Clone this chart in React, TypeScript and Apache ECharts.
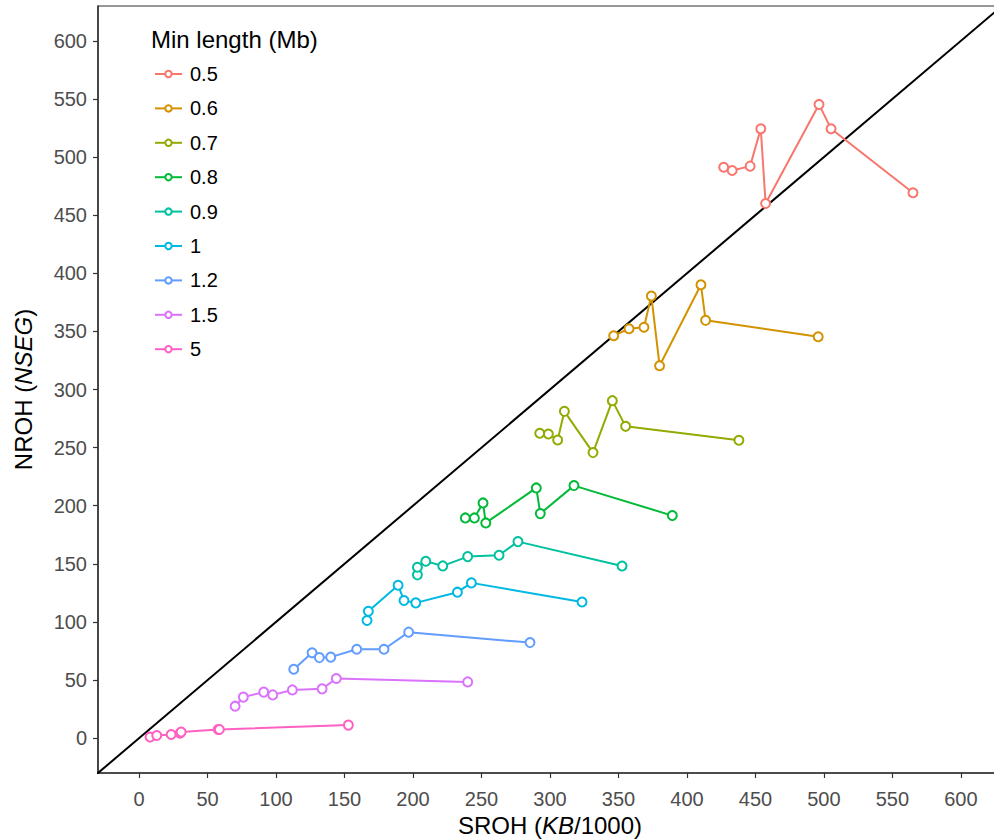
import React, { useEffect, useRef } from "react";
import * as echarts from "echarts";

const groups = ["0.5", "0.6", "0.7", "0.8", "0.9", "1", "1.2", "1.5", "5"];
const colors = ["#F8766D", "#D39200", "#93AA00", "#00BA38", "#00C19F", "#00B9E3", "#619CFF", "#DB72FB", "#FF61C3"];

const s05 = [[426.8, 491.3], [433, 488.5], [446.1, 492.2], [453.9, 524.3], [457.4, 460.1], [496.4, 545.3], [505.2, 524.3], [565, 469.3]];
const s06 = [[346.5, 346.3], [357.7, 352.3], [368.6, 353.5], [374, 380.4], [380, 320.5], [410.2, 390.1], [413.6, 359.5], [495.8, 345.4]];
const s07 = [[292.5, 262.3], [298.8, 261.7], [305.6, 256.6], [310.5, 281.2], [331.4, 245.7], [345.5, 290.4], [355.2, 268.3], [437.9, 256.3]];
const s08 = [[238.2, 189.5], [244.8, 189.5], [251.1, 202.4], [253.1, 185.2], [290, 215.3], [292.9, 193.2], [317.5, 217.3], [389.3, 191.5]];
const s09 = [[203.2, 140.5], [203.2, 147.1], [209.3, 152.2], [221.7, 148.2], [239.9, 156.2], [262.8, 157.4], [276.6, 169.1], [352.6, 148.1]];
const s10 = [[166.4, 101.2], [167.4, 109.2], [189.1, 131.6], [193.4, 118.4], [202, 116.4], [232.4, 125.6], [242.6, 133.6], [323.4, 117.2]];
const s12 = [[112.9, 59.3], [126.3, 73.4], [131.6, 69.3], [139.9, 69.7], [158.9, 76.5], [178.8, 76.5], [196.8, 91.2], [285.4, 82.2]];
const s15 = [[70.1, 27.5], [76.1, 35.3], [91, 39.6], [97.6, 37.2], [111.9, 41.5], [133.6, 42.4], [144, 51.3], [239.9, 48.4]];
const s50 = [[8, 0.9], [12.9, 2.3], [23.4, 3.1], [29.9, 4.3], [30.7, 5.2], [57.7, 7.4], [58.6, 7.4], [152.8, 11.2]];
const seriesData = [s05, s06, s07, s08, s09, s10, s12, s15, s50];

const tickValues = [0, 50, 100, 150, 200, 250, 300, 350, 400, 450, 500, 550, 600];
const identityLine = [[-60, -60], [700, 700]];

const FONT = "Liberation Sans, Arial, Helvetica, sans-serif";

export default function App() {
  const ref = useRef<HTMLDivElement>(null);
  useEffect(() => {
    if (!ref.current) return;
    const chart = echarts.init(ref.current, undefined, { renderer: "svg" });
    const series: any[] = seriesData.map((d, i) => ({
      name: groups[i],
      type: "line",
      data: d,
      symbol: "emptyCircle",
      symbolSize: 9,
      showSymbol: true,
      color: colors[i],
      lineStyle: { width: 2, color: colors[i] },
      itemStyle: { color: colors[i], borderColor: colors[i], borderWidth: 1.2 },
      emphasis: { disabled: true },
      z: 3,
    }));
    series.push({
      name: "identity",
      type: "line",
      data: identityLine,
      symbol: "none",
      clip: true,
      lineStyle: { width: 2, color: "#000" },
      emphasis: { disabled: true },
      z: 2,
    });
    const axisName = {
      fontFamily: FONT,
      fontSize: 24,
      color: "#000",
      rich: { i: { fontStyle: "italic", fontSize: 24, fontFamily: FONT, color: "#000" } },
    };
    chart.setOption({
      animation: false,
      textStyle: { fontFamily: FONT },
      grid: {
        left: 98,
        top: 6,
        width: 904,
        bottom: 67,
        outerBoundsMode: "none",
        containLabel: false,
        show: true,
        borderColor: "#333",
        borderWidth: 1.2,
        backgroundColor: "transparent",
      },
      title: {
        text: "Min length (Mb)",
        left: 151,
        top: 27,
        padding: 0,
        textStyle: { fontFamily: FONT, fontSize: 24, fontWeight: "normal", color: "#000" },
      },
      legend: {
        data: groups,
        orient: "vertical",
        left: 154,
        top: 64,
        padding: 0,
        itemWidth: 27,
        itemHeight: 8,
        itemGap: 14.4,
        textStyle: { fontFamily: FONT, fontSize: 20, color: "#000", padding: [0, 0, 0, 3] },
        selectedMode: false,
      },
      xAxis: {
        type: "value",
        min: -30,
        max: 630,
        splitLine: { show: false },
        axisLine: { show: true, onZero: false, lineStyle: { color: "#333", width: 1.5 } },
        axisTick: { show: true, length: 5, lineStyle: { color: "#333", width: 1.2 }, customValues: tickValues },
        axisLabel: { customValues: tickValues, color: "#4d4d4d", fontSize: 20, margin: 16, fontFamily: FONT },
        name: "SROH ({i|KB}/1000)",
        nameLocation: "middle",
        nameGap: 20,
        nameTextStyle: axisName,
      },
      yAxis: {
        type: "value",
        min: -30,
        max: 630,
        splitLine: { show: false },
        axisLine: { show: true, onZero: false, lineStyle: { color: "#333", width: 1.5 } },
        axisTick: { show: true, length: 5, lineStyle: { color: "#333", width: 1.2 }, customValues: tickValues },
        axisLabel: { customValues: tickValues, color: "#4d4d4d", fontSize: 20, margin: 11, fontFamily: FONT },
        name: "NROH ({i|NSEG})",
        nameLocation: "middle",
        nameGap: 63,
        nameTextStyle: axisName,
      },
      series,
    });
    return () => chart.dispose();
  }, []);
  return (
    <div
      ref={ref}
      style={{ position: "fixed", left: 0, top: 0, width: 994, height: 840, background: "#fff" }}
    />
  );
}
